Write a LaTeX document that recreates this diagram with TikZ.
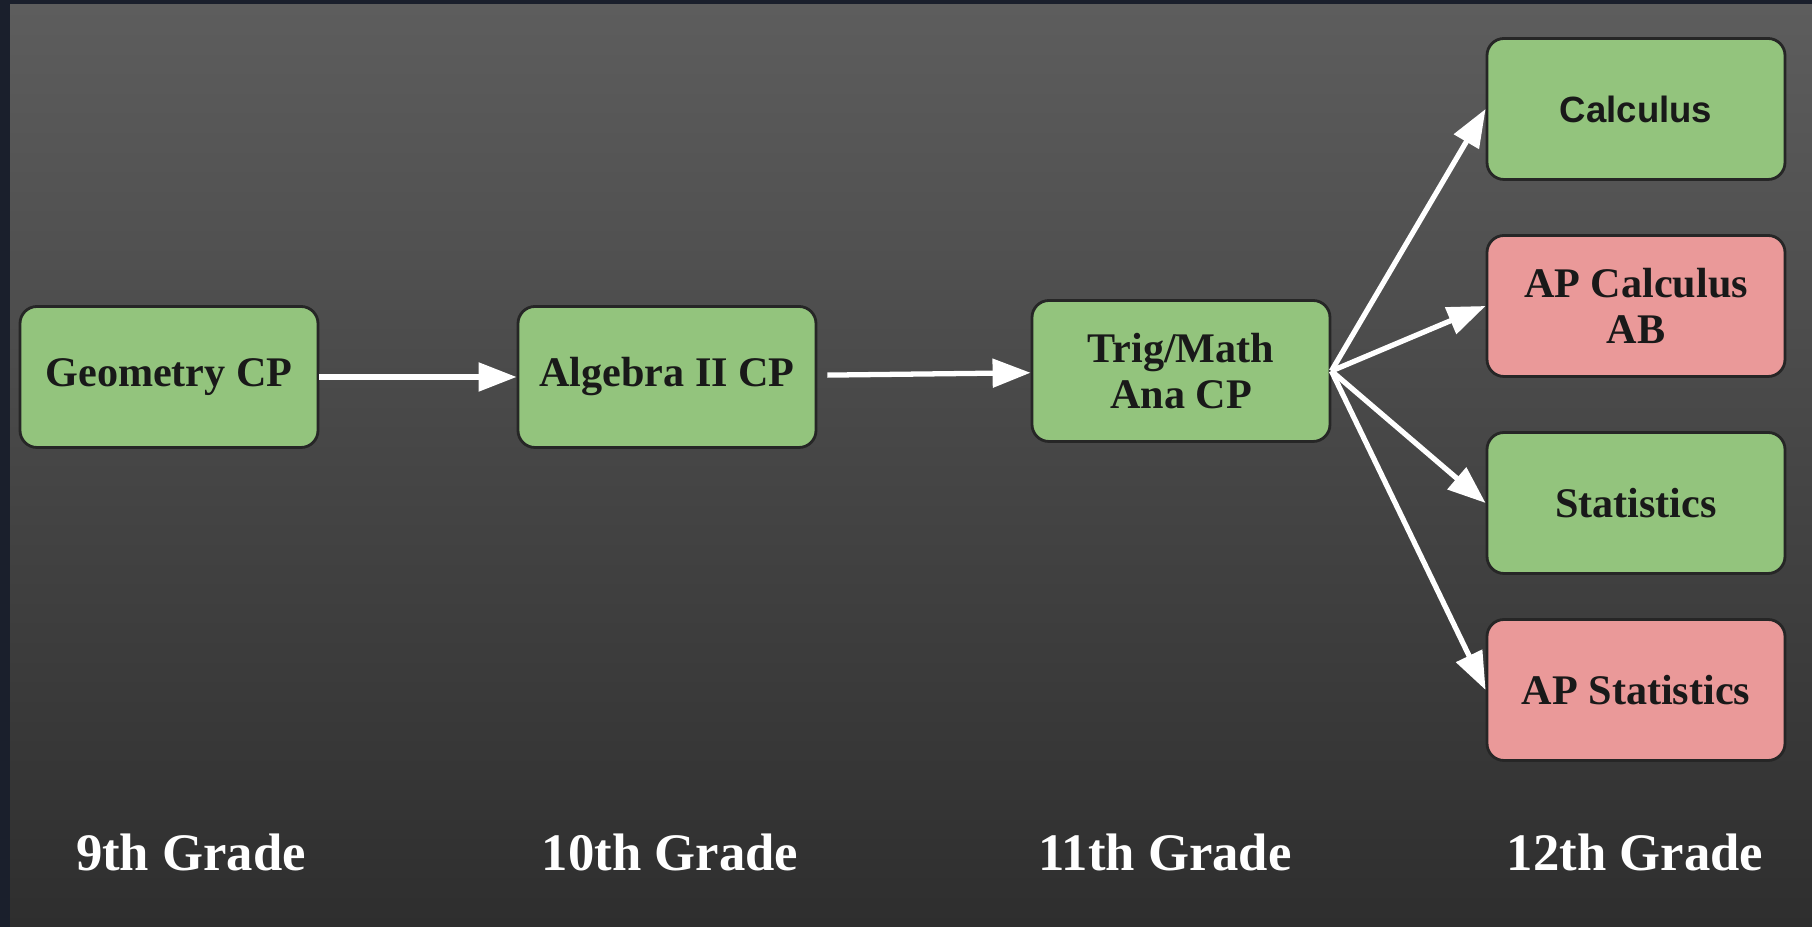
\documentclass[tikz,border=0pt]{standalone}
\usepackage{fontspec}
\setmainfont{Liberation Serif}
\newfontfamily\calcfont{Liberation Sans}
\usetikzlibrary{arrows.meta}

\definecolor{frameblue}{HTML}{1A1F2C}
\definecolor{bgtop}{HTML}{5D5D5D}
\definecolor{bgbottom}{HTML}{2E2E2E}
\definecolor{cpgreen}{HTML}{93C47D}
\definecolor{apred}{HTML}{EA9999}

\tikzset{
	course/.style={rectangle,rounded corners=0.17cm,draw=black!85,line width=0.8pt,
		minimum width=2.98cm,minimum height=1.41cm,align=center,text=black!90,
		font=\fontsize{12}{13}\selectfont\bfseries},
	cp/.style={course,fill=cpgreen},
	ap/.style={course,fill=apred},
	grade/.style={anchor=base,text=white,font=\fontsize{15}{17}\selectfont\bfseries},
	link/.style={draw=white,line width=1.5pt,-{Triangle[length=0.38cm,width=0.28cm]}}
}

\begin{document}
\begin{tikzpicture}
		\useasboundingbox (0,0) rectangle (18.12,9.27);
		\fill[frameblue] (0,0) rectangle (18.12,9.27);
		\shade[top color=bgtop,bottom color=bgbottom] (0.10,0) rectangle (18.12,9.22);
%		\draw[help lines] (0,0) grid (18,9);

		\path (1.69,5.50) node(geo) [cp] {Geometry CP};
		\path (6.67,5.50) node(alg) [cp] {Algebra II CP};
		\path (11.81,5.56) node(trig) [cp] {Trig/Math\\Ana CP};
		\path (16.36,8.18) node(calc) [cp,font=\calcfont\fontsize{10.4}{12}\selectfont\bfseries] {Calculus};
		\path (16.36,6.21) node(apcalc) [ap] {AP Calculus\\AB};
		\path (16.36,4.24) node(stats) [cp] {Statistics};
		\path (16.36,2.37) node(apstats) [ap] {AP Statistics};

		\path (1.91,0.56) node(g9) [grade] {9th Grade};
		\path (6.70,0.56) node(g10) [grade] {10th Grade};
		\path (11.65,0.56) node(g11) [grade] {11th Grade};
		\path (16.35,0.56) node(g12) [grade] {12th Grade};

		\draw[link] (geo) -- (alg);
		\draw[link,shorten <=0.1cm] (alg) -- (trig);
		\path (trig.east) coordinate (fan);
		\foreach \dest in {calc,apcalc,stats,apstats}
			\draw[link] (fan) -- (\dest.west);
	\end{tikzpicture}
\end{document}
